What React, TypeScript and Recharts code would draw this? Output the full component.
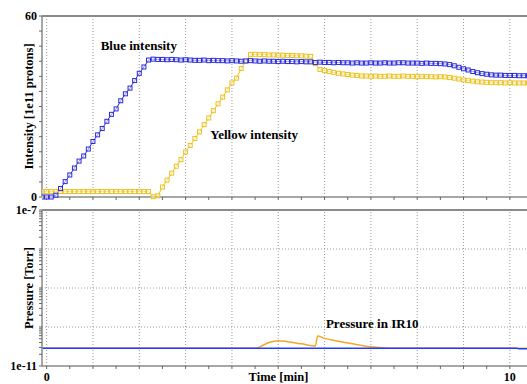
import { Line, LineChart, ReferenceDot, ReferenceLine, XAxis, YAxis } from "recharts";

// time axis in minutes, sampled every 0.1 min
const times = [
  -0.1, 0, 0.1, 0.2, 0.3, 0.4, 0.5, 0.6, 0.7, 0.8,
  0.9, 1.0, 1.1, 1.2, 1.3, 1.4, 1.5, 1.6, 1.7, 1.8,
  1.9, 2.0, 2.1, 2.2, 2.3, 2.4, 2.5, 2.6, 2.7, 2.8,
  2.9, 3.0, 3.1, 3.2, 3.3, 3.4, 3.5, 3.6, 3.7, 3.8,
  3.9, 4.0, 4.1, 4.2, 4.3, 4.4, 4.5, 4.6, 4.7, 4.8,
  4.9, 5.0, 5.1, 5.2, 5.3, 5.4, 5.5, 5.6, 5.7, 5.8,
  5.9, 6.0, 6.1, 6.2, 6.3, 6.4, 6.5, 6.6, 6.7, 6.8,
  6.9, 7.0, 7.1, 7.2, 7.3, 7.4, 7.5, 7.6, 7.7, 7.8,
  7.9, 8.0, 8.1, 8.2, 8.3, 8.4, 8.5, 8.6, 8.7, 8.8,
  8.9, 9.0, 9.1, 9.2, 9.3, 9.4, 9.5, 9.6, 9.7, 9.8,
  9.9, 10.0, 10.1, 10.2, 10.3, 10.4,
];

const blueIntensity = [
  0, 0, 0, 0.6, 2.8, 5.1, 7.3, 9.6, 11.9, 13.6,
  15.9, 18.4, 20.6, 22.7, 25.1, 27.4, 29.2, 31.9, 34.2, 36.1,
  38.6, 41.0, 43.1, 45.4, 45.7, 45.6, 45.6, 45.5, 45.6, 45.5,
  45.4, 45.5, 45.4, 45.3, 45.3, 45.4, 45.2, 45.3, 45.2, 45.2,
  45.1, 45.2, 45.1, 45.0, 45.1, 45.2, 45.1, 45.0, 45.1, 45.0,
  45.0, 44.9, 45.0, 44.9, 44.9, 44.8, 44.9, 44.8, 44.8, 44.6,
  44.7, 44.6, 44.6, 44.5, 44.6, 44.5, 44.5, 44.4, 44.5, 44.4,
  44.4, 44.5, 44.4, 44.4, 44.5, 44.4, 44.4, 44.5, 44.5, 44.4,
  44.4, 44.4, 44.3, 44.4, 44.3, 44.3, 44.2, 44.1, 43.9, 43.5,
  43.0, 42.5, 42.1, 41.6, 41.2, 40.9, 40.7, 40.5, 40.4, 40.4,
  40.3, 40.3, 40.3, 40.2, 40.2, 40.2,
];

const yellowIntensity = [
  1.8, 1.8, 1.8, 1.8, 1.8, 1.8, 1.8, 1.8, 1.8, 1.8,
  1.8, 1.8, 1.8, 1.8, 1.8, 1.8, 1.8, 1.8, 1.8, 1.8,
  1.8, 1.8, 1.8, 1.8, 0.1, 0.4, 3.3, 5.6, 7.9, 10.2,
  12.4, 14.9, 17.1, 19.4, 21.6, 24.0, 26.2, 28.6, 30.9, 33.1,
  35.5, 37.8, 39.4, 42.6, 45.0, 47.2, 47.3, 47.2, 47.2, 47.1,
  47.1, 47.0, 47.0, 46.9, 46.9, 46.8, 46.8, 46.7, 46.6, 44.2,
  42.3, 41.9, 41.6, 41.3, 41.0, 40.8, 40.6, 40.4, 40.3, 40.1,
  40.1, 40.0, 40.1, 40.0, 40.0, 40.1, 40.0, 40.0, 40.1, 40.0,
  40.0, 39.9, 40.0, 39.9, 39.9, 39.8, 39.9, 39.8, 39.6, 39.4,
  39.1, 38.8, 38.6, 38.4, 38.2, 38.1, 38.0, 37.9, 37.9, 37.9,
  37.8, 37.9, 37.8, 37.8, 37.8, 37.8,
];

const orangeTimes = [-0.1, 4.5, 4.6, 4.8, 5.0, 5.2, 5.5, 5.8, 5.85, 6.0, 6.3, 6.6, 7.0, 7.4, 10.4];
const orangePressure = [
  2.85e-11, 2.85e-11, 3.1e-11, 4.0e-11, 4.45e-11, 4.2e-11, 3.7e-11, 3.25e-11,
  5.9e-11, 5.1e-11, 4.3e-11, 3.7e-11, 3.1e-11, 2.85e-11, 2.85e-11,
];
const bluePressureTimes = [-0.1, 10.15, 10.2, 10.4];
const bluePressure = [2.85e-11, 2.85e-11, 2.75e-11, 2.75e-11];

const halfTicks = [0, 0.5, 1, 1.5, 2, 2.5, 3, 3.5, 4, 4.5, 5, 5.5, 6, 6.5, 7, 7.5, 8, 8.5, 9, 9.5, 10];
const minuteLines = [0, 1, 2, 3, 4, 5, 6, 7, 8, 9, 10];
const intensityTicks = [0, 5, 10, 15, 20, 25, 30, 35, 40, 45, 50, 55, 60];
const decades = [1e-11, 1e-10, 1e-9, 1e-8];
const pressureTicks = [...decades.flatMap((d) => [1, 2, 3, 4, 5, 6, 7, 8, 9].map((k) => k * d)), 1e-7];
const decadeLines = [1e-10, 1e-9, 1e-8];

const topData = times.map((t, i) => ({ t, blue: blueIntensity[i], yellow: yellowIntensity[i] }));
const orangeData = orangeTimes.map((t, i) => ({ t, p: orangePressure[i] }));
const bluePData = bluePressureTimes.map((t, i) => ({ t, p: bluePressure[i] }));

const FONT = "Liberation Serif, Times New Roman, serif";
const AXIS = "#8a8a8a";
const GRID = "#9a9a9a";
const BLUE = "#2b2bd6";
const YELLOW = "#ecc21e";
const tickStyle = { fill: "#000", fontSize: 12, fontWeight: "bold", fontFamily: FONT };
const labelStyle = { fill: "#000", fontSize: 12.5, fontWeight: "bold", fontFamily: FONT };
const noteStyle = { fill: "#000", fontSize: 13, fontWeight: "bold", fontFamily: FONT };
const X_DOMAIN: [number, number] = [-0.1, 10.37];

function squareDot(color: string) {
  return (props: any) => {
    const { cx, cy, index } = props;
    if (cx == null || cy == null) return <g key={`e-${index}`} />;
    return (
      <rect
        key={`sq-${index}`}
        x={cx - 2}
        y={cy - 2}
        width={4}
        height={4}
        fill="#ffffff"
        fillOpacity={0.5}
        stroke={color}
        strokeWidth={1}
      />
    );
  };
}

export default function App() {
  return (
    <div
      style={{
        position: "absolute",
        left: 0,
        top: 0,
        width: 527,
        height: 384,
        background: "#fff",
        overflow: "hidden",
        fontFamily: FONT,
      }}
    >
      <div style={{ position: "absolute", left: 0, top: 0 }}>
        <LineChart width={527} height={215} data={topData} margin={{ top: 16, right: 0, bottom: 0, left: 0 }}>
          {minuteLines.map((m) => (
            <ReferenceLine key={m} x={m} stroke={GRID} strokeDasharray="1 2" />
          ))}
          <ReferenceLine y={60} stroke={AXIS} strokeWidth={2} />
          <XAxis
            type="number"
            dataKey="t"
            domain={X_DOMAIN}
            allowDataOverflow
            ticks={halfTicks}
            interval={0}
            tickFormatter={() => ""}
            tickSize={3}
            height={18}
            axisLine={{ stroke: AXIS, strokeWidth: 1.5 }}
            tickLine={{ stroke: "#666" }}
          />
          <YAxis
            type="number"
            domain={[0, 60]}
            ticks={intensityTicks}
            interval={0}
            tickFormatter={(v: number) => (v === 0 || v === 60 ? String(v) : "")}
            width={42}
            tickSize={3}
            tickMargin={2}
            tick={tickStyle}
            axisLine={{ stroke: AXIS, strokeWidth: 1.5 }}
            tickLine={{ stroke: "#666" }}
            label={{
              value: "Intensity [1e11 protons]",
              angle: -90,
              position: "insideLeft",
              offset: 29,
              style: { ...labelStyle, textAnchor: "middle" },
            }}
          />
          <Line
            type="linear"
            dataKey="yellow"
            stroke={YELLOW}
            strokeWidth={1}
            dot={squareDot(YELLOW)}
            isAnimationActive={false}
          />
          <Line
            type="linear"
            dataKey="blue"
            stroke={BLUE}
            strokeWidth={1}
            dot={squareDot(BLUE)}
            isAnimationActive={false}
          />
          <ReferenceDot x={1.99} y={50.1} r={0} fill="none" stroke="none" label={{ value: "Blue intensity", position: "center", ...noteStyle }} />
          <ReferenceDot x={4.48} y={20.6} r={0} fill="none" stroke="none" label={{ value: "Yellow intensity", position: "center", ...noteStyle }} />
        </LineChart>
      </div>
      <div style={{ position: "absolute", left: 0, top: 200 }}>
        <LineChart width={527} height={184} margin={{ top: 10, right: 0, bottom: 0, left: 0 }}>
          {minuteLines.map((m) => (
            <ReferenceLine key={m} x={m} stroke={GRID} strokeDasharray="1 2" />
          ))}
          {decadeLines.map((d) => (
            <ReferenceLine key={d} y={d} stroke={GRID} strokeDasharray="1 2" />
          ))}
          <ReferenceLine y={1e-7} stroke={AXIS} strokeWidth={2} />
          <XAxis
            type="number"
            dataKey="t"
            domain={X_DOMAIN}
            allowDataOverflow
            ticks={halfTicks}
            interval={0}
            tickFormatter={(v: number) => (v === 0 ? "0" : v === 10 ? "10" : "")}
            tickSize={3}
            tickMargin={3}
            tick={tickStyle}
            height={18}
            axisLine={{ stroke: AXIS, strokeWidth: 1.5 }}
            tickLine={{ stroke: "#666" }}
            label={{ value: "Time [min]", position: "insideBottom", offset: 3, dx: -6, style: labelStyle }}
          />
          <YAxis
            type="number"
            scale="log"
            domain={[1e-11, 1e-7]}
            allowDataOverflow
            ticks={pressureTicks}
            interval={0}
            tickFormatter={(v: number) => (v === 1e-7 ? "1e-7" : v === 1e-11 ? "1e-11" : "")}
            width={42}
            tickSize={3}
            tickMargin={2}
            tick={tickStyle}
            axisLine={{ stroke: AXIS, strokeWidth: 1.5 }}
            tickLine={{ stroke: "#666" }}
            label={{
              value: "Pressure [Torr]",
              angle: -90,
              position: "insideLeft",
              offset: 29,
              style: { ...labelStyle, textAnchor: "middle" },
            }}
          />
          <Line
            data={orangeData}
            dataKey="p"
            type="monotone"
            stroke="#f6a52a"
            strokeWidth={1.5}
            dot={false}
            isAnimationActive={false}
          />
          <Line
            data={bluePData}
            dataKey="p"
            type="linear"
            stroke="#1f3cff"
            strokeWidth={1.5}
            dot={false}
            isAnimationActive={false}
          />
          <ReferenceDot x={7.03} y={1.26e-10} r={0} fill="none" stroke="none" label={{ value: "Pressure in IR10", position: "center", ...noteStyle }} />
        </LineChart>
      </div>
    </div>
  );
}
